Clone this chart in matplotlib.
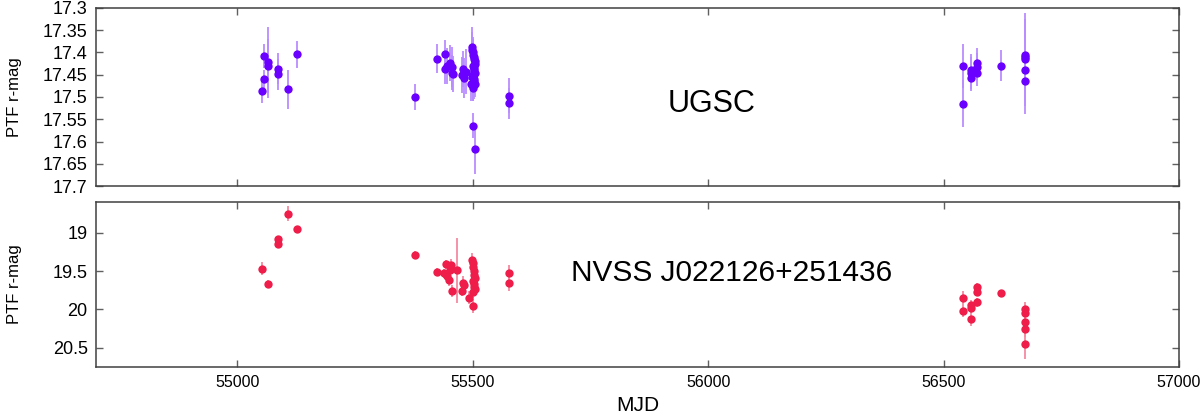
import matplotlib
matplotlib.use("Agg")
import matplotlib.pyplot as plt
import numpy as np

# ---------------- data ----------------
# UGSC (top panel)
ugsc_mjd = [55052, 55057, 55057, 55066, 55066, 55087, 55087, 55107, 55126,
            55377, 55425, 55442, 55441, 55445, 55451, 55455, 55457, 55458,
            55479, 55481, 55485, 55478,
            55497, 55498, 55499, 55500, 55501, 55502, 55503, 55504, 55505, 55501,
            55502, 55503, 55504, 55500, 55499, 55502, 55503, 55504, 55501, 55500,
            55500, 55504,
            55577, 55577,
            56541, 56541, 56558, 56558, 56558, 56572, 56572, 56572, 56622,
            56672, 56672, 56672, 56672, 56672]
ugsc_mag = [17.486, 17.459, 17.408, 17.422, 17.430, 17.436, 17.449, 17.483, 17.404,
            17.500, 17.414, 17.403, 17.436, 17.430, 17.424, 17.432, 17.445, 17.449,
            17.437, 17.458, 17.443, 17.450,
            17.470, 17.388, 17.395, 17.400, 17.405, 17.410, 17.415, 17.420, 17.425, 17.430,
            17.435, 17.440, 17.445, 17.450, 17.455, 17.460, 17.465, 17.470, 17.475, 17.480,
            17.565, 17.617,
            17.497, 17.514,
            17.430, 17.515, 17.439, 17.446, 17.457, 17.424, 17.432, 17.445, 17.430,
            17.406, 17.411, 17.415, 17.440, 17.463]
ugsc_err = [0.028, 0.020, 0.027, 0.080, 0.060, 0.035, 0.035, 0.044, 0.030,
            0.030, 0.033, 0.030, 0.035, 0.040, 0.040, 0.045, 0.040, 0.040,
            0.040, 0.045, 0.050, 0.040,
            0.040, 0.045, 0.040, 0.035, 0.035, 0.030, 0.035, 0.030, 0.035, 0.030,
            0.035, 0.030, 0.030, 0.035, 0.030, 0.035, 0.040, 0.030, 0.035, 0.030,
            0.028, 0.056,
            0.040, 0.035,
            0.050, 0.053, 0.035, 0.035, 0.030, 0.035, 0.030, 0.030, 0.035,
            0.080, 0.100, 0.090, 0.080, 0.075]

# NVSS J022126+251436 (bottom panel)
nvss_mjd = [55052, 55066, 55087, 55087, 55107, 55126,
            55377, 55425, 55440, 55444, 55445, 55449, 55452, 55454, 55457, 55467,
            55478, 55479, 55481, 55493, 55501,
            55499, 55500, 55501, 55502, 55503, 55504, 55500, 55502, 55503, 55504, 55501,
            55577, 55577,
            56541, 56541, 56558, 56558, 56558, 56572, 56572, 56572, 56622,
            56672, 56672, 56672, 56672, 56672]
nvss_mag = [19.468, 19.668, 19.077, 19.151, 18.752, 18.956,
            19.294, 19.510, 19.530, 19.410, 19.570, 19.616, 19.490, 19.420, 19.760, 19.490,
            19.760, 19.650, 19.680, 19.846, 19.950,
            19.350, 19.400, 19.450, 19.500, 19.550, 19.590, 19.630, 19.670, 19.710, 19.740, 19.770,
            19.520, 19.660,
            19.850, 20.020, 19.940, 19.980, 20.120, 19.710, 19.770, 19.906, 19.785,
            20.000, 20.050, 20.160, 20.254, 20.445]
nvss_err = [0.080, 0.050, 0.040, 0.040, 0.100, 0.040,
            0.050, 0.050, 0.060, 0.060, 0.070, 0.080, 0.060, 0.080, 0.080, 0.420,
            0.060, 0.080, 0.070, 0.080, 0.090,
            0.080, 0.070, 0.080, 0.070, 0.090, 0.080, 0.070, 0.080, 0.090, 0.080, 0.080,
            0.100, 0.100,
            0.090, 0.080, 0.060, 0.060, 0.090, 0.050, 0.050, 0.060, 0.040,
            0.100, 0.080, 0.100, 0.100, 0.200]

labels = ["UGSC", "NVSS J022126+251436"]
xticks = [55000, 55500, 56000, 56500, 57000]
top_yticks = [17.3, 17.35, 17.4, 17.45, 17.5, 17.55, 17.6, 17.65, 17.7]
bot_yticks = [19, 19.5, 20, 20.5]

# ---------------- style ----------------
plt.rcParams['font.family'] = ['Liberation Sans', 'DejaVu Sans']

fig = plt.figure(figsize=(12, 4.19), dpi=100)
ax1 = fig.add_axes([0.080, 0.556, 0.9025, 0.425])
ax2 = fig.add_axes([0.080, 0.124, 0.9025, 0.394])

top_c, top_e = "#6a00ff", "#b98cff"
bot_c, bot_e = "#ee1d4a", "#f48aa0"

ax1.errorbar(ugsc_mjd, ugsc_mag, yerr=ugsc_err, fmt='o', color=top_c, ms=6,
             ecolor=top_e, elinewidth=1.3, capsize=0, mew=0, zorder=3)
ax2.errorbar(nvss_mjd, nvss_mag, yerr=nvss_err, fmt='o', color=bot_c, ms=6,
             ecolor=bot_e, elinewidth=1.3, capsize=0, mew=0, zorder=3)

for ax in (ax1, ax2):
    ax.set_xlim(54700, 57000)
    ax.set_xticks(xticks)
    ax.tick_params(direction='in', top=True, right=True, length=5, width=1,
                   color='#606060', pad=6)
    ax.tick_params(axis='y', labelsize=13)
    ax.tick_params(axis='x', labelsize=11.5)
    for s in ax.spines.values():
        s.set_color('#404040')
        s.set_linewidth(1.1)
    ax.set_ylabel("PTF r-mag", fontsize=12, labelpad=8)

ax1.set_ylim(17.7, 17.3)
ax1.set_yticks(top_yticks)
ax1.set_yticklabels([f"{v:g}" for v in top_yticks])
ax1.tick_params(labelbottom=False)
ax1.yaxis.set_label_coords(-0.068, 0.5)

ax2.set_ylim(20.75, 18.6)
ax2.set_yticks(bot_yticks)
ax2.set_yticklabels([f"{v:g}" for v in bot_yticks])
ax2.set_xticklabels([str(v) for v in xticks])
ax2.set_xlabel("MJD", fontsize=15, labelpad=4)
ax2.yaxis.set_label_coords(-0.068, 0.5)

ax1.text(0.568, 0.46, labels[0], transform=ax1.transAxes, fontsize=22,
         ha='center', va='center')
ax2.text(0.587, 0.57, labels[1], transform=ax2.transAxes, fontsize=21.5,
         ha='center', va='center')

fig.savefig("out.png", dpi=100)
